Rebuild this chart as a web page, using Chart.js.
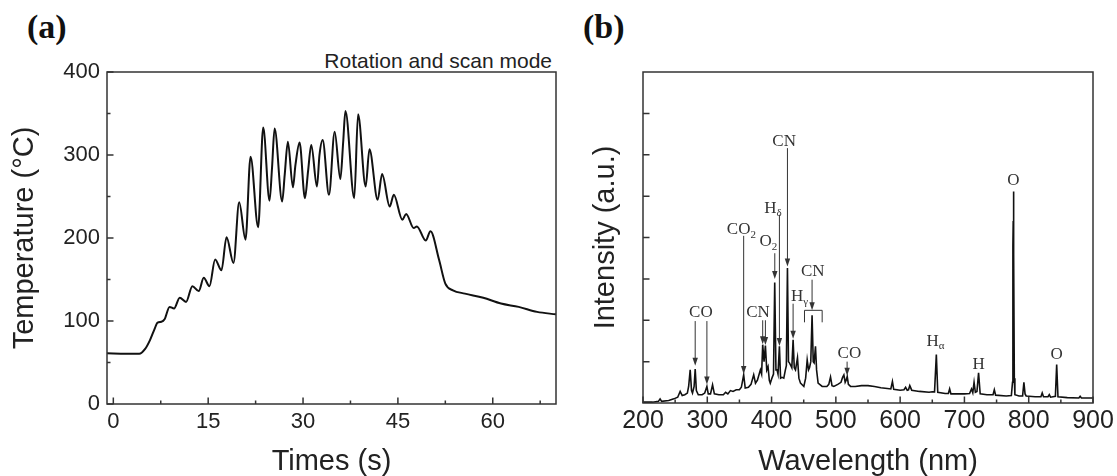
<!DOCTYPE html>
<html>
<head>
<meta charset="utf-8">
<script src="https://cdn.jsdelivr.net/npm/chart.js@4.4.1/dist/chart.umd.min.js"></script>
<style>
  body { margin: 0; background: #fff; width: 1117px; height: 476px; position: relative; overflow: hidden; }
  canvas { position: absolute; top: 0; }
  #chartA { left: 0; }
  #chartB { left: 560px; }
  .tag { position: absolute; top: 10px; font: bold 34px "Liberation Serif"; line-height: 1; color: #111; }
  #mode { position: absolute; left: 252px; top: 50px; width: 300px; text-align: right; font: 21px "Liberation Sans"; line-height: 1; color: #222; }
</style>
</head>
<body>
<div class="tag" style="left:27px">(a)</div>
<div class="tag" style="left:583px">(b)</div>
<div id="mode">Rotation and scan mode</div>
<canvas id="chartA" width="560" height="476"></canvas>
<canvas id="chartB" width="557" height="476"></canvas>
<script>
// --- (a) temperature trace ---
const timeS = [-1, 2, 4.1, 5.0, 5.8, 6.5, 7.0, 7.6, 8.1, 8.9, 9.6, 10.5, 11.5, 12.5, 13.5, 14.3, 15.2, 16.1, 17.1, 17.9,
  19.0, 19.9, 20.9, 21.7, 22.9, 23.7, 24.7, 25.1, 25.5, 26.7, 27.1, 27.6, 28.4, 28.8, 29.45, 30.3, 30.8, 31.3, 32.2, 32.6,
  33.1, 34.1, 35.0, 35.9, 36.35, 36.7, 38.1, 38.7, 39.9, 40.5, 41.8, 42.5, 43.7, 44.35, 45.7, 46.3, 47.5, 48.0, 49.4, 50.15,
  51.5, 52.5, 53.7, 55.6, 58.5, 61.3, 64.1, 67, 70];
const tempC = [61, 60.5, 60.5, 66, 77, 90, 98, 99, 102, 117, 115, 128, 123, 142, 136, 152, 142, 174, 161, 201,
  170, 243, 198, 298, 213, 333, 245, 285, 332, 244, 276, 316, 261, 288, 315, 248, 281, 312, 262, 300,
  318, 252, 328, 271, 316, 353, 248, 349, 262, 307, 246, 277, 238, 252, 222, 229, 212, 214, 197, 208,
  174, 145, 137, 133, 128, 121, 117, 111, 108];
const tickTime = [0, 15, 30, 45, 60];
const minorTime = [7.5, 22.5, 37.5, 52.5, 67.5];
const tickTemp = [0, 100, 200, 300, 400];
const minorTemp = [50, 150, 250, 350];

// --- (b) emission spectrum ---
const waveNm = [200, 215, 224, 226.6, 229, 240, 248, 254, 257.8, 261, 265, 269, 271, 273.4, 275.5, 277, 279.5, 281.2, 283, 286,
  292, 296, 299.4, 301.5, 305, 308.2, 311, 318, 325, 328.5, 332, 336, 340, 345, 350, 353, 356.6, 359, 364, 368,
  372.2, 375, 378, 382.6, 384.5, 386.2, 388.3, 390.4, 392.5, 394.5, 396.5, 398, 401, 403, 404.9, 406.8, 408.5, 410, 412.2, 414,
  416.3, 419, 421.5, 423, 424.7, 426.3, 427.8, 430, 431.5, 433.5, 435.3, 437.2, 440.3, 442.5, 445, 450.2, 453, 455.4, 457.5, 459,
  461, 463, 464.8, 466.2, 468.3, 470, 472.4, 478.7, 486, 489, 491.7, 494, 496.9, 503, 508, 510.5, 512.5, 514.5, 516, 517.7,
  519.5, 522.9, 530, 540, 550, 560, 570, 580, 585.5, 588, 590, 600, 606, 608.5, 611, 613, 615, 618, 630, 645,
  650, 653.5, 656.3, 658.5, 670, 675, 677, 679, 700, 708, 711, 713, 715, 717, 719.5, 722, 724.5, 735, 744.5, 746.5,
  748.5, 765, 773, 774.8, 775.4, 775.9, 776.3, 776.8, 777.6, 778.5, 785, 790.5, 792.5, 794.3, 796, 810, 819, 821, 823, 830,
  832, 834, 841.5, 843.5, 845.5, 860, 878, 880, 882, 900];
const intensity = [0.02, 0.02, 0.04, 0.1, 0.04, 0.06, 0.1, 0.14, 0.28, 0.18, 0.2, 0.24, 0.4, 0.8, 0.3, 0.24, 0.4, 0.82, 0.3, 0.2,
  0.2, 0.24, 0.4, 0.22, 0.22, 0.44, 0.22, 0.2, 0.2, 0.26, 0.22, 0.3, 0.28, 0.32, 0.32, 0.38, 0.68, 0.36, 0.38, 0.45,
  0.68, 0.48, 0.55, 0.8, 0.7, 1.41, 1.0, 1.39, 0.8, 0.88, 0.55, 0.48, 0.62, 0.7, 2.91, 0.8, 0.8, 0.7, 1.37, 0.6,
  0.62, 0.6, 0.8, 0.9, 3.26, 1.0, 0.97, 0.9, 0.85, 1.53, 0.85, 0.8, 1.09, 0.6, 0.48, 0.4, 0.6, 1.04, 0.8, 0.85,
  1.0, 2.12, 1.0, 0.97, 1.37, 0.8, 0.48, 0.4, 0.4, 0.45, 0.63, 0.42, 0.4, 0.45, 0.5, 0.62, 0.68, 0.5, 0.55, 0.64,
  0.45, 0.4, 0.4, 0.42, 0.42, 0.4, 0.37, 0.35, 0.34, 0.52, 0.33, 0.31, 0.32, 0.38, 0.31, 0.32, 0.42, 0.31, 0.28, 0.26,
  0.27, 0.27, 1.17, 0.26, 0.23, 0.23, 0.34, 0.22, 0.22, 0.23, 0.34, 0.25, 0.5, 0.26, 0.28, 0.73, 0.22, 0.2, 0.2, 0.32,
  0.19, 0.17, 0.18, 0.5, 3.8, 4.4, 5.11, 3.6, 0.6, 0.2, 0.17, 0.17, 0.5, 0.22, 0.17, 0.15, 0.15, 0.24, 0.15, 0.15,
  0.2, 0.14, 0.16, 0.93, 0.15, 0.13, 0.12, 0.16, 0.12, 0.12];
const tickWave = [200, 300, 400, 500, 600, 700, 800, 900];
const minorWave = [250, 350, 450, 550, 650, 750, 850];
const tickInt = [1, 2, 3, 4, 5, 6, 7];

// peak labels: [name, subscript], centre in data units
const peakName = [['CO', ''], ['CN', ''], ['CO', '2'], ['O', '2'], ['H', 'δ'], ['CN', ''], ['H', 'γ'], ['CN', ''],
  ['CO', ''], ['H', 'α'], ['H', ''], ['O', ''], ['O', '']];
const nameX = [290, 379, 353, 395, 402, 419.5, 443.5, 464, 521, 655, 722, 776, 843.6];
const nameY = [2.19, 2.19, 4.19, 3.9, 4.71, 6.32, 2.57, 3.18, 1.2, 1.49, 0.93, 5.38, 1.17];
// arrows: wavelength, start value, tip value
const arrowX = [281.2, 299.4, 356.6, 386.2, 390.4, 405, 412.2, 424.7, 433.5, 463, 517.5];
const arrowFrom = [1.98, 1.98, 4.04, 2.0, 2.0, 3.62, 4.55, 6.16, 2.4, 2.98, 1.0];
const arrowTo = [0.9, 0.45, 0.7, 1.42, 1.4, 3.0, 1.38, 3.3, 1.55, 2.24, 0.66];
// CN bracket (from, to, level, foot)
const bracket = [451.2, 478.7, 2.24, 1.95];

const sans = 'Liberation Sans';
const ink = '#222';

// --- inward ticks + box ---
const frame = {
  id: 'frame',
  afterDatasetsDraw(chart, args, opts) {
    const {ctx, chartArea: a, scales: {x, y}} = chart;
    ctx.save();
    ctx.strokeStyle = '#333';
    ctx.lineWidth = 1.5;
    ctx.strokeRect(a.left, a.top, a.right - a.left, a.bottom - a.top);
    ctx.beginPath();
    const xt = (v, len) => { const p = x.getPixelForValue(v); ctx.moveTo(p, a.bottom); ctx.lineTo(p, a.bottom - len); };
    const yt = (v, len) => { const p = y.getPixelForValue(v); ctx.moveTo(a.left, p); ctx.lineTo(a.left + len, p); };
    x.ticks.forEach(t => xt(t.value, 6.5));
    (opts.xMinor || []).forEach(v => xt(v, 3.5));
    y.ticks.forEach(t => yt(t.value, 6.5));
    (opts.yMinor || []).forEach(v => yt(v, 3.5));
    ctx.stroke();
    ctx.restore();
  }
};

const peaks = {
  id: 'peaks',
  afterDatasetsDraw(chart) {
    const {ctx, scales: {x, y}} = chart;
    ctx.save();
    ctx.strokeStyle = '#333';
    ctx.fillStyle = '#333';
    ctx.lineWidth = 1;
    arrowX.forEach((w, i) => {
      const px = x.getPixelForValue(w), p0 = y.getPixelForValue(arrowFrom[i]), p1 = y.getPixelForValue(arrowTo[i]);
      ctx.beginPath(); ctx.moveTo(px, p0); ctx.lineTo(px, p1 - 6); ctx.stroke();
      ctx.beginPath(); ctx.moveTo(px - 2.7, p1 - 8); ctx.lineTo(px + 2.7, p1 - 8); ctx.lineTo(px, p1); ctx.closePath(); ctx.fill();
    });
    const bx0 = x.getPixelForValue(bracket[0]), bx1 = x.getPixelForValue(bracket[1]);
    const by = y.getPixelForValue(bracket[2]), bf = y.getPixelForValue(bracket[3]);
    ctx.beginPath();
    ctx.moveTo(bx0, bf); ctx.lineTo(bx0, by); ctx.lineTo(bx1, by); ctx.lineTo(bx1, bf);
    ctx.stroke();

    ctx.textBaseline = 'middle';
    ctx.textAlign = 'left';
    peakName.forEach((n, i) => {
      ctx.font = '17px "Liberation Serif"';
      const w1 = ctx.measureText(n[0]).width;
      ctx.font = '11px "Liberation Serif"';
      const w2 = n[1] ? ctx.measureText(n[1]).width : 0;
      const left = x.getPixelForValue(nameX[i]) - (w1 + w2) / 2;
      const py = y.getPixelForValue(nameY[i]);
      ctx.font = '17px "Liberation Serif"';
      ctx.fillText(n[0], left, py);
      if (n[1]) { ctx.font = '11px "Liberation Serif"'; ctx.fillText(n[1], left + w1, py + 5); }
    });
    ctx.restore();
  }
};

function fixed(ticks) {
  return s => { s.ticks = ticks.map(v => ({value: v})); };
}

// --- chart (a) ---
new Chart(document.getElementById('chartA'), {
  type: 'line',
  data: {datasets: [{
    data: timeS.map((t, i) => ({x: t, y: tempC[i]})),
    borderColor: '#111', borderWidth: 2, pointRadius: 0, cubicInterpolationMode: 'monotone', fill: false
  }]},
  options: {
    responsive: false, animation: false, devicePixelRatio: 1,
    layout: {padding: {left: 0, right: 4, top: 72, bottom: 0}},
    plugins: {legend: {display: false}, tooltip: {enabled: false}, frame: {xMinor: minorTime, yMinor: minorTemp}},
    scales: {
      x: {
        type: 'linear', min: -1, max: 70,
        grid: {display: false, drawTicks: false}, border: {display: false},
        afterBuildTicks: fixed(tickTime),
        afterFit: s => { s.height = 72; s.paddingLeft = 0; s.paddingRight = 0; },
        ticks: {font: {family: sans, size: 22, lineHeight: 1}, color: ink, padding: 7, maxRotation: 0, autoSkip: false},
        title: {display: true, text: 'Times (s)', color: ink, font: {family: sans, size: 29, lineHeight: 1}, padding: {top: 0, bottom: 0}}
      },
      y: {
        min: 0, max: 400,
        grid: {display: false, drawTicks: false}, border: {display: false},
        afterBuildTicks: fixed(tickTemp),
        afterFit: s => { s.width = 107; s.paddingTop = 0; s.paddingBottom = 0; },
        ticks: {font: {family: sans, size: 22, lineHeight: 1}, color: ink, padding: 7},
        title: {display: true, text: 'Temperature (°C)', color: ink, font: {family: sans, size: 29, lineHeight: 1}, padding: {top: 10, bottom: 0}}
      }
    }
  },
  plugins: [frame]
});

// --- chart (b) ---
new Chart(document.getElementById('chartB'), {
  type: 'line',
  data: {datasets: [{
    data: waveNm.map((w, i) => ({x: w, y: intensity[i]})),
    borderColor: '#111', borderWidth: 1.6, pointRadius: 0, tension: 0, fill: false
  }]},
  options: {
    responsive: false, animation: false, devicePixelRatio: 1,
    layout: {padding: {left: 0, right: 24, top: 72, bottom: 0}},
    plugins: {legend: {display: false}, tooltip: {enabled: false}, frame: {xMinor: minorWave}},
    scales: {
      x: {
        type: 'linear', min: 200, max: 900,
        grid: {display: false, drawTicks: false}, border: {display: false},
        afterBuildTicks: fixed(tickWave),
        afterFit: s => { s.height = 73; s.paddingLeft = 0; s.paddingRight = 0; },
        ticks: {font: {family: sans, size: 25, lineHeight: 1}, color: ink, padding: 6, maxRotation: 0, autoSkip: false},
        title: {display: true, text: 'Wavelength (nm)', color: ink, font: {family: sans, size: 29, lineHeight: 1}, padding: {top: 0, bottom: 0}}
      },
      y: {
        min: 0, max: 8,
        grid: {display: false, drawTicks: false}, border: {display: false},
        afterBuildTicks: fixed(tickInt),
        afterFit: s => { s.width = 83; s.paddingTop = 0; s.paddingBottom = 0; },
        ticks: {display: false},
        title: {display: true, text: 'Intensity (a.u.)', color: ink, font: {family: sans, size: 29, lineHeight: 1}, padding: {top: 31, bottom: 0}}
      }
    }
  },
  plugins: [frame, peaks]
});
</script>
</body>
</html>
